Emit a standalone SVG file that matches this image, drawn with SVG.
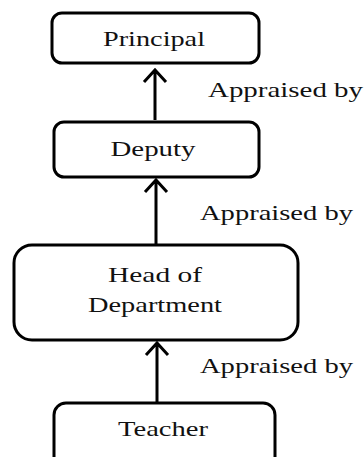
<svg xmlns="http://www.w3.org/2000/svg" width="364" height="457" viewBox="0 0 364 457">
<style>
.box{fill:#fff;stroke:#000;stroke-width:3}
.t{font-family:"Liberation Serif","Times New Roman",serif;font-size:22px;fill:#111;text-anchor:middle}
.l{font-family:"Liberation Serif","Times New Roman",serif;font-size:22px;fill:#111}
.c{stroke:#000;stroke-width:3;fill:none;stroke-linecap:butt}
</style>
<rect width="364" height="457" fill="#fff"/>
<g id="principal">
<rect class="box" x="52" y="13" width="207" height="50" rx="10"/>
<text class="t" x="154" y="46" textLength="102" lengthAdjust="spacingAndGlyphs">Principal</text>
</g>
<g id="deputy">
<rect class="box" x="54" y="122" width="205" height="55" rx="10"/>
<text class="t" x="153" y="156" textLength="85" lengthAdjust="spacingAndGlyphs">Deputy</text>
</g>
<g id="hod">
<rect class="box" x="14" y="245" width="284" height="95" rx="18"/>
<text class="t" x="155" y="282" textLength="94" lengthAdjust="spacingAndGlyphs">Head of</text>
<text class="t" x="155" y="312" textLength="134" lengthAdjust="spacingAndGlyphs">Department</text>
</g>
<g id="teacher">
<rect class="box" x="54" y="403" width="221" height="70" rx="12"/>
<text class="t" x="163" y="436" textLength="90" lengthAdjust="spacingAndGlyphs">Teacher</text>
</g>
<g id="connectors">
<path class="c" d="M155 120 V70 M144 82 L155 70 L166 82"/>
<path class="c" d="M156 244 V180 M145 192 L156 180 L167 192"/>
<path class="c" d="M157 402 V343 M146 355 L157 343 L168 355"/>
<text class="l" x="208" y="97" textLength="155" lengthAdjust="spacingAndGlyphs">Appraised by</text>
<text class="l" x="200" y="220" textLength="153" lengthAdjust="spacingAndGlyphs">Appraised by</text>
<text class="l" x="200" y="373" textLength="153" lengthAdjust="spacingAndGlyphs">Appraised by</text>
</g>
</svg>
